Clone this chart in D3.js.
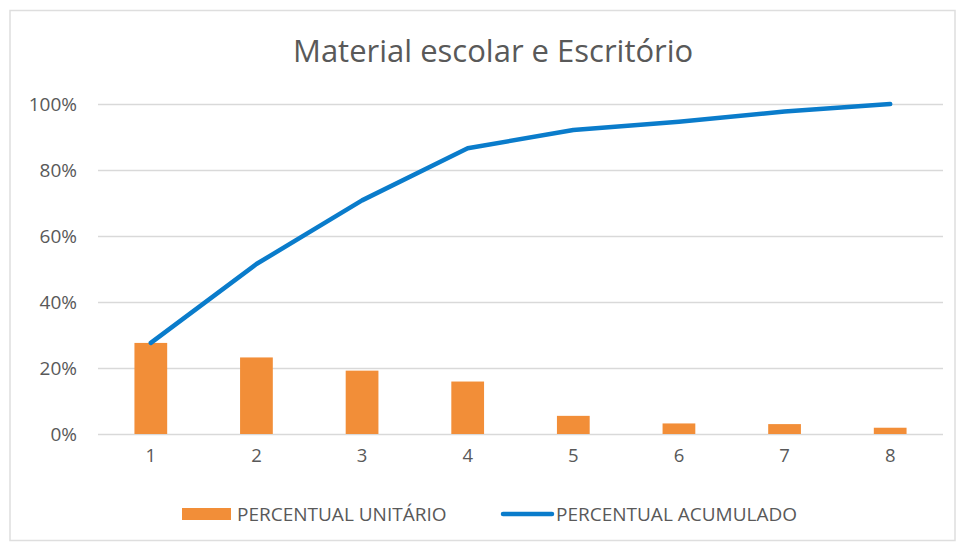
<!DOCTYPE html>
<html><head><meta charset="utf-8">
<script src="https://cdn.jsdelivr.net/npm/d3@7"></script>
<style>body{margin:0;background:#fff}svg{display:block}text{font-family:"Open Sans",sans-serif}</style>
</head><body><svg id="c" width="965" height="546"></svg>
<script>
const categories = ["1","2","3","4","5","6","7","8"];
const unitario = [27.6, 23.2, 19.2, 15.9, 5.5, 3.2, 3.0, 1.9];
const acumulado = [27.6, 51.5, 70.8, 86.6, 92.1, 94.6, 97.7, 100];
const yTicks = [0, 20, 40, 60, 80, 100];
const title = "Material escolar e Escritório";
const seriesNames = ["PERCENTUAL UNITÁRIO", "PERCENTUAL ACUMULADO"];

const svg = d3.select("#c");
const W = 965, H = 546;
const m = {left: 98, right: 22, top: 104, bottom: 112};
const x = d3.scaleBand().domain(categories).range([m.left, W - m.right]).paddingInner(0.69).paddingOuter(0.345);
const y = d3.scaleLinear().domain([0, 100]).range([H - m.bottom, m.top]);

svg.append("rect").attr("x", 10).attr("y", 10.5).attr("width", W - 20).attr("height", H - 16)
  .attr("fill", "#fff").attr("stroke", "#dedede").attr("stroke-width", 1.5);

svg.append("text").attr("x", 293).attr("y", 62)
  .attr("font-size", 31).attr("fill", "#595959").text(title);

const yAxis = d3.axisLeft(y).tickValues(yTicks).tickFormat(d => d + "%").tickSize(-(W - m.left - m.right)).tickPadding(21);
const gy = svg.append("g").attr("transform", `translate(${m.left},0)`).call(yAxis);
gy.select(".domain").remove();
gy.selectAll(".tick line").attr("stroke", "#d9d9d9").attr("stroke-width", 1.3);
gy.selectAll(".tick text").attr("font-size", 19).attr("fill", "#595959");

const xAxis = d3.axisBottom(x).tickSize(0).tickPadding(15);
const gx = svg.append("g").attr("transform", `translate(0,${H - m.bottom})`).call(xAxis);
gx.select(".domain").remove();
gx.selectAll(".tick text").attr("font-size", 18.5).attr("fill", "#595959");

svg.append("g").selectAll("rect").data(unitario).join("rect")
  .attr("x", (d, i) => x(categories[i])).attr("width", x.bandwidth())
  .attr("y", d => y(d)).attr("height", d => y(0) - y(d)).attr("fill", "#f28e38");

const line = d3.line().x((d, i) => x(categories[i]) + x.bandwidth() / 2).y(d => y(d));
svg.append("path").datum(acumulado).attr("d", line).attr("fill", "none")
  .attr("stroke", "#0a7ccb").attr("stroke-width", 4.5).attr("stroke-linecap", "round").attr("stroke-linejoin", "round");

const lg = svg.append("g");
lg.append("rect").attr("x", 182).attr("y", 508).attr("width", 49).attr("height", 12).attr("fill", "#f28e38");
lg.append("text").attr("x", 237).attr("y", 521).attr("font-size", 19).attr("fill", "#595959").text(seriesNames[0]);
lg.append("line").attr("x1", 503).attr("x2", 552).attr("y1", 514).attr("y2", 514)
  .attr("stroke", "#0a7ccb").attr("stroke-width", 4.5).attr("stroke-linecap", "round");
lg.append("text").attr("x", 556).attr("y", 521).attr("font-size", 19).attr("fill", "#595959").text(seriesNames[1]);
</script></body></html>
